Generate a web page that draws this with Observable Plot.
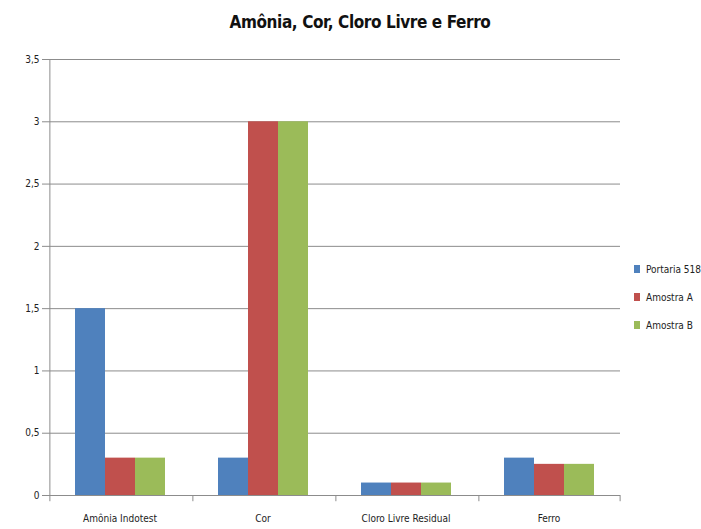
<!DOCTYPE html>
<html>
<head>
<meta charset="utf-8">
<script src="https://cdn.jsdelivr.net/npm/d3@7"></script>
<script src="https://cdn.jsdelivr.net/npm/@observablehq/plot@0.6"></script>
<style>
  html, body { margin: 0; padding: 0; background: #fff; }
  #wrap { position: relative; width: 701px; height: 529px; font-family: "DejaVu Sans", sans-serif; font-stretch: condensed; }
  #title { position: absolute; top: 12px; left: 0; width: 720px; text-align: center; font-weight: bold; font-size: 17px; color: #111; font-stretch: condensed; letter-spacing: -0.4px; }
  #legend { position: absolute; left: 634px; top: 255px; font-size: 10px; color: #222; white-space: nowrap; }
  .item { height: 28px; display: flex; align-items: center; }
  .sw { width: 6px; height: 8px; margin-right: 6px; }
  svg text { font-stretch: condensed; }
</style>
</head>
<body>
<div id="wrap">
  <div id="title">Amônia, Cor, Cloro Livre e Ferro</div>
  <div id="legend"></div>
</div>
<script>
const categories = ["Amônia Indotest", "Cor", "Cloro Livre Residual", "Ferro"];
const series = ["Portaria 518", "Amostra A", "Amostra B"];
const portaria518 = [1.5, 0.3, 0.1, 0.3];
const amostraA = [0.3, 3, 0.1, 0.25];
const amostraB = [0.3, 3, 0.1, 0.25];
const colors = ["#4f81bd", "#c0504d", "#9bbb59"];
const yTicks = [0, 0.5, 1, 1.5, 2, 2.5, 3, 3.5];

const seriesValues = [portaria518, amostraA, amostraB];
const data = categories.flatMap((c, i) => series.map((s, j) => ({category: c, series: s, value: seriesValues[j][i]})));

const fmt = d => String(d).replace(".", ",");
const W = 701, H = 529, mL = 47, mR = 81, mT = 59, mB = 34;
const padOuter = 0.81;
const facetW = (W - mL - mR) / categories.length;
const step = facetW / (series.length + 2 * padOuter);
const edge = padOuter * step + step / 2;
const grid = "#8c8c8c";

const chart = Plot.plot({
  width: W, height: H,
  marginTop: mT, marginBottom: mB, marginLeft: mL, marginRight: mR,
  style: {fontFamily: "'DejaVu Sans', sans-serif", fontSize: "10px", color: "#222", background: "transparent"},
  fx: {domain: categories, padding: 0, label: null, axis: null},
  x: {domain: series, paddingInner: 0, paddingOuter: padOuter, axis: null},
  y: {domain: [0, 3.5], label: null},
  color: {domain: series, range: colors},
  marks: [
    Plot.ruleY(yTicks.filter(d => d > 0), {stroke: grid, strokeWidth: 1}),
    Plot.barY(data, {fx: "category", x: "series", y: "value", fill: "series"}),
    Plot.ruleY([0], {stroke: grid, strokeWidth: 1}),
    Plot.ruleX(categories, {fx: d => d, x: () => series[0], dx: -edge, y1: d => d === categories[0] ? 3.5 : 0, y2: -0.05, stroke: grid}),
    Plot.ruleX([categories[categories.length - 1]], {fx: d => d, x: () => series[series.length - 1], dx: edge, y1: 0, y2: -0.05, stroke: grid}),
    Plot.axisY({ticks: yTicks, tickFormat: fmt, tickSize: 6, tickPadding: 3, stroke: grid, fill: "#222", label: null}),
    Plot.axisFx({anchor: "bottom", tickSize: 0, tickPadding: 19, label: null, fill: "#222"})
  ]
});
document.getElementById("wrap").prepend(chart);
chart.style.position = "absolute";
chart.style.left = "0";
chart.style.top = "0";

const legend = d3.select("#legend");
series.forEach((s, i) => {
  const item = legend.append("div").attr("class", "item");
  item.append("div").attr("class", "sw").style("background", colors[i]);
  item.append("span").text(s);
});
</script>
</body>
</html>
